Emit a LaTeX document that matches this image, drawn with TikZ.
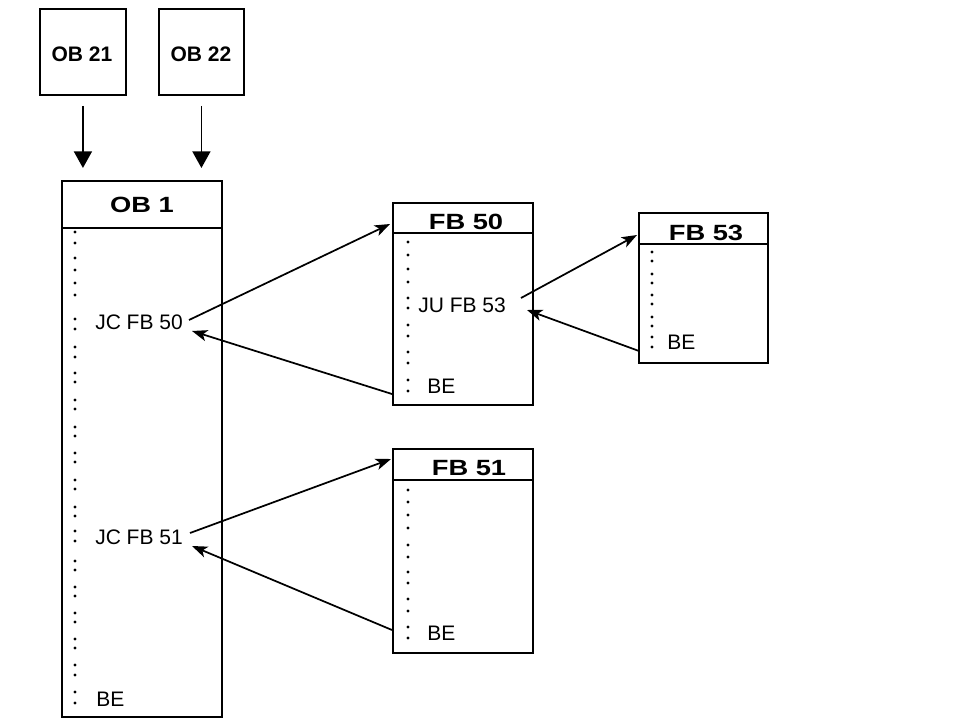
\documentclass[tikz,border=0pt]{standalone}
\usepackage{fontspec}
\setmainfont{Liberation Sans}
\usepackage{graphicx}
\usetikzlibrary{arrows.meta,calc}
\begin{document}
\begin{tikzpicture}[x=0.75pt,y=-0.75pt,
  blk/.style={draw, line width=1.4pt, inner sep=0pt, anchor=north west},
  lbl/.style={inner sep=0pt, anchor=west, font=\fontsize{15.75pt}{18pt}\selectfont},
  hdr/.style={inner sep=0pt, font=\fontsize{15.75pt}{18pt}\selectfont\bfseries},
  conn/.style={line width=1.3pt, -{Stealth[length=11.5pt,width=8.5pt,inset=3pt]}},
  downarr/.style={line width=1.3pt, -{Triangle[length=12.5pt,width=13.5pt]}},
  hline/.style={line width=1.4pt}
]
\useasboundingbox (0,0) rectangle (962,723);

% top blocks
\node[blk, minimum width=64.5pt, minimum height=64.5pt] (ob21) at (39,8) {};
\node[blk, minimum width=63.75pt, minimum height=64.5pt] (ob22) at (158,8) {};
\node[hdr] (ob21t) at (82,54) {OB 21};
\node[hdr] (ob22t) at (201,54) {OB 22};

% OB 1
\node[blk, minimum width=120pt, minimum height=402pt] (ob1) at (61,180) {};
\draw[hline] ($(ob1.north west)+(0,48)$) -- ($(ob1.north east)+(0,48)$);
\node[hdr] (ob1t) at (142,205) {\scalebox{1.3}[1.05]{OB 1}};

% FB 50
\node[blk, minimum width=105pt, minimum height=151.5pt] (fb50) at (392,202) {};
\draw[hline] ($(fb50.north west)+(0,31)$) -- ($(fb50.north east)+(0,31)$);
\node[hdr] (fb50t) at (466,222) {\scalebox{1.3}[1.05]{FB 50}};

% FB 53
\node[blk, minimum width=96.75pt, minimum height=112.5pt] (fb53) at (638,212) {};
\draw[hline] ($(fb53.north west)+(0,32)$) -- ($(fb53.north east)+(0,32)$);
\node[hdr] (fb53t) at (706,233) {\scalebox{1.3}[1.05]{FB 53}};

% FB 51
\node[blk, minimum width=105pt, minimum height=153pt] (fb51) at (392,448) {};
\draw[hline] ($(fb51.north west)+(0,32)$) -- ($(fb51.north east)+(0,32)$);
\node[hdr] (fb51t) at (469,468) {\scalebox{1.3}[1.05]{FB 51}};

% labels
\node[lbl] (jc50) at (95,322) {JC FB 50};
\node[lbl] (jc51) at (95,537) {JC FB 51};
\node[lbl] (be1) at (96,699) {BE};
\node[lbl] (ju53) at (418,305) {JU FB 53};
\node[lbl] (be50) at (427,386) {BE};
\node[lbl] (be53) at (667,342) {BE};
\node[lbl] (be51) at (427,633) {BE};

% dots
\foreach \y in {232,243,258,270,283,295,319,329,347,357,373,382,400,409,427,436,453,462,480,489,507,516,531,541,561,570,587,596,613,622,639,648,665,675,692,703}
  \fill (75,\y) circle (1.3pt);
\foreach \y in {242,255,269,282,298,308,325,336,352,363,380,391}
  \fill (408,\y) circle (1.3pt);
\foreach \y in {252,261,274,283,295,304,317,326,337,347}
  \fill (652,\y) circle (1.3pt);
\foreach \y in {490,502,515,528,545,557,572,583,599,611,627,638}
  \fill (408,\y) circle (1.3pt);

% connector end points
\coordinate (a1s) at (189,320);
\coordinate (a1e) at (390,224);
\coordinate (a2s) at (392,394);
\coordinate (a2e) at (192,331);
\coordinate (a3s) at (521,298);
\coordinate (a3e) at (637,235);
\coordinate (a4s) at (639,351);
\coordinate (a4e) at (527,310);
\coordinate (a5s) at (190,533);
\coordinate (a5e) at (391,459);
\coordinate (a6s) at (392,630);
\coordinate (a6e) at (192,546);

\draw[conn] (a1s) -- (a1e);
\draw[conn] (a2s) -- (a2e);
\draw[conn] (a3s) -- (a3e);
\draw[conn] (a4s) -- (a4e);
\draw[conn] (a5s) -- (a5e);
\draw[conn] (a6s) -- (a6e);

% vertical arrows
\draw[downarr] ($(ob21.south)+(0,10)$) -- ($(ob21.south |- ob1.north)+(0,-12)$);
\draw[downarr] ($(ob22.south)+(0,10)$) -- ($(ob22.south |- ob1.north)+(0,-12)$);
\end{tikzpicture}
\end{document}
